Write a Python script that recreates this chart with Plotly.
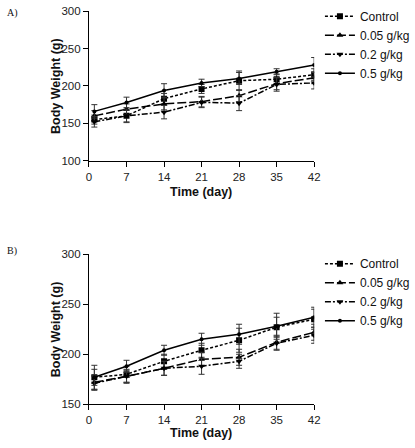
import plotly.graph_objects as go

# ---------------- data ----------------
days = [1, 7, 14, 21, 28, 35, 42]
series_names = ["Control", "0.05 g/kg", "0.2 g/kg", "0.5 g/kg"]

# Panel A
a_control = [155, 160, 183, 196, 207, 209, 215]
a_005 = [160, 169, 176, 179, 187, 203, 211]
a_02 = [152, 160, 165, 178, 177, 202, 204]
a_05 = [166, 178, 194, 204, 210, 219, 228]
a_control_err = [6, 8, 7, 6, 13, 7, 8]
a_005_err = [7, 7, 8, 7, 8, 8, 8]
a_02_err = [7, 9, 9, 7, 10, 9, 8]
a_05_err = [9, 7, 9, 5, 8, 4, 10]

# Panel B
b_control = [177, 180, 193, 204, 214, 227, 235]
b_005 = [172, 178, 186, 195, 197, 212, 222]
b_02 = [171, 178, 186, 188, 193, 211, 219]
b_05 = [177, 188, 204, 215, 220, 228, 237]
b_control_err = [8, 8, 7, 7, 12, 10, 10]
b_005_err = [7, 7, 7, 7, 8, 7, 8]
b_02_err = [7, 6, 7, 8, 7, 7, 8]
b_05_err = [12, 6, 5, 6, 10, 13, 10]

x_ticks = [0, 7, 14, 21, 28, 35, 42]
a_y_ticks = [100, 150, 200, 250, 300]
b_y_ticks = [150, 200, 250, 300]

# ---------------- styles ----------------
styles = {
    "Control": dict(dash="3px,2px", symbol="square", size=6),
    "0.05 g/kg": dict(dash="9px,3px", symbol="triangle-up", size=6),
    "0.2 g/kg": dict(dash="6px,2px,2px,2px", symbol="triangle-down", size=6),
    "0.5 g/kg": dict(dash="solid", symbol="circle", size=4),
}

panel_a = [(a_control, a_control_err), (a_005, a_005_err), (a_02, a_02_err), (a_05, a_05_err)]
panel_b = [(b_control, b_control_err), (b_005, b_005_err), (b_02, b_02_err), (b_05, b_05_err)]

fig = go.Figure()

for panel, xa, ya, leg in [(panel_a, "x", "y", "legend"), (panel_b, "x2", "y2", "legend2")]:
    for name, (vals, errs) in zip(series_names, panel):
        st = styles[name]
        fig.add_trace(go.Scatter(
            x=days, y=vals, name=name, mode="lines+markers",
            xaxis=xa, yaxis=ya, legend=leg,
            line=dict(color="black", width=1.5, dash=st["dash"]),
            marker=dict(symbol=st["symbol"], size=st["size"], color="black"),
            error_y=dict(type="data", array=errs, visible=True, color="#333333",
                         thickness=1, width=3),
        ))

W, H = 415, 448


def px(v):
    return v / W


def py(v):
    return 1 - v / H


x0, x1 = px(89), px(322)
a_top, a_bot = py(5.3), py(159)
b_top, b_bot = py(255), py(409.3)

axis_common = dict(
    showgrid=False, zeroline=False, showline=True, linecolor="black", linewidth=1.2,
    ticks="outside", ticklen=5, tickwidth=1.2, tickcolor="black",
    tickfont=dict(family="Liberation Sans, Arial", size=11.5, color="#222222"),
)

legend_font = dict(family="Liberation Sans, Arial", size=12, color="#111111")

fig.update_layout(
    width=W, height=H,
    margin=dict(l=0, r=0, t=0, b=0),
    paper_bgcolor="white", plot_bgcolor="white",
    xaxis=dict(domain=[x0, x1], anchor="y", range=[0, 42], tickvals=x_ticks, **axis_common),
    yaxis=dict(domain=[a_bot, a_top], anchor="x", range=[100, 300], tickvals=a_y_ticks, **axis_common),
    xaxis2=dict(domain=[x0, x1], anchor="y2", range=[0, 42], tickvals=x_ticks, **axis_common),
    yaxis2=dict(domain=[b_bot, b_top], anchor="x2", range=[150, 300], tickvals=b_y_ticks, **axis_common),
    legend=dict(x=px(328), y=py(84), xanchor="left", yanchor="bottom", font=legend_font,
                bgcolor="rgba(0,0,0,0)", tracegroupgap=0, itemwidth=30),
    legend2=dict(x=px(328), y=py(250), xanchor="left", yanchor="top", font=legend_font,
                 bgcolor="rgba(0,0,0,0)", tracegroupgap=0, itemwidth=30),
    showlegend=True,
)

title_font = dict(family="Liberation Sans, Arial", size=12.5, color="#111111")
annotations = [
    dict(text="<b>Body Weight (g)</b>", x=px(55), y=py(82), textangle=-90),
    dict(text="<b>Time (day)</b>", x=px(205), y=py(191)),
    dict(text="<b>Body Weight (g)</b>", x=px(55), y=py(332), textangle=-90),
    dict(text="<b>Time (day)</b>", x=px(205), y=py(439)),
]
for a in annotations:
    fig.add_annotation(xref="paper", yref="paper", showarrow=False,
                       xanchor="center", yanchor="middle", font=title_font, **a)

for lbl, yy in [("A)", 7), ("B)", 252)]:
    fig.add_annotation(text=lbl, xref="paper", yref="paper", x=px(2), y=py(yy),
                       xanchor="left", yanchor="middle", showarrow=False,
                       font=dict(family="Liberation Serif, Times New Roman", size=10, color="#111111"))

# remove the default 8px page margin so the 415x448 figure fills the window exactly
fig.write_html("out.html", config={"displayModeBar": False},
               post_script="document.body.style.margin='0px';")
